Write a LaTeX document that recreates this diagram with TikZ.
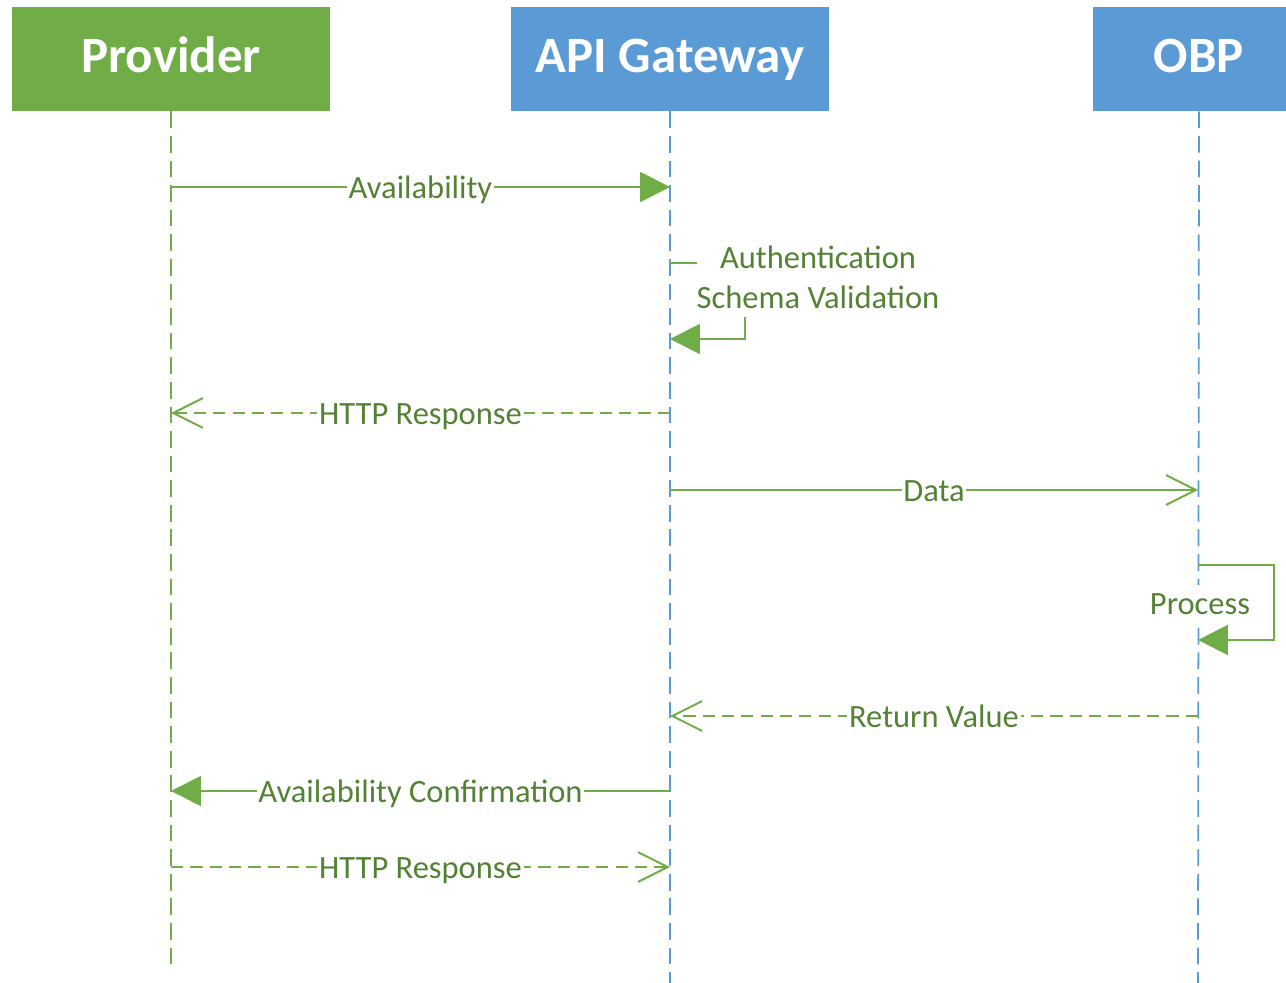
\documentclass[tikz,border=0pt]{standalone}
\usepackage{fontspec}
\setmainfont{Carlito}
\usetikzlibrary{arrows.meta}

\definecolor{actgreen}{HTML}{70AD47}
\definecolor{actblue}{HTML}{5B9BD5}
\definecolor{msggreen}{HTML}{548235}

\tikzset{
  actor/.style={fill=#1, text=white, font=\fontsize{29}{34}\selectfont\bfseries,
    minimum width=6.36cm, minimum height=2.08cm, inner sep=0pt,
    text height=15.9pt, text depth=0pt},
  lifeline/.style={draw=#1, line width=1pt, dash pattern=on 9.5pt off 4.5pt},
  call/.style={actgreen, line width=1.1pt, -{Triangle[length=17pt,width=17pt]}},
  async/.style={actgreen, line width=1.1pt, -{Straight Barb[length=17pt,width=17pt]}},
  reply/.style={async, dash pattern=on 7pt off 4pt},
  note/.style={fill=white, text=msggreen, font=\fontsize{18.5}{22.7}\selectfont, inner sep=1pt},
  msg/.style={note, text height=13pt, text depth=0pt, inner ysep=4pt},
}

\begin{document}
\begin{tikzpicture}[x=0.02cm, y=-0.02cm]
  \useasboundingbox (0,0) rectangle (1286,983);

  % actors
  \node[actor=actgreen] (prov) at (171,59) {Provider};
  \node[actor=actblue] (gate) at (670,59) {API Gateway};
  \begin{scope}
    \clip (1093,7) rectangle (1286,111);
    \node[actor=actblue] (obp) at (1199,59) {OBP};
  \end{scope}

  % lifelines
  \coordinate (pend) at (171,968);
  \coordinate (gend) at (670,983);
  \coordinate (oend) at (1198,983);
  \draw[lifeline=actgreen] (prov.south) -- (pend);
  \draw[lifeline=actblue] (gate.south) -- (gend);
  \draw[lifeline=actblue] (obp.south) -- (oend);

  % message rows on each lifeline
  \foreach \y [count=\i] in {187,263,339,413,490,565,640,716,791,867} {
    \coordinate (p\i) at (171,\y);
    \coordinate (g\i) at (670,\y);
    \coordinate (o\i) at (1198,\y);
  }

  \draw[call] (p1) -- node[msg] {Availability} (g1);

  \draw[call] (g2) -- ++(75,0) |- (g3);
  \node[note, align=center, inner xsep=0pt, inner ysep=5pt] (auth) at (818,277) {Authentication\\Schema Validation};

  \draw[reply] (g4) -- node[msg] {HTTP Response} (p4);
  \draw[async] (g5) -- node[msg] {Data} (o5);

  \draw[call] (o6) -- ++(76,0) |- (o7);
  \node[msg] (proc) at (1200,603) {Process};

  \draw[reply] (o8) -- node[msg] {Return Value} (g8);
  \draw[call] (g9) -- node[msg] {Availability Confirmation} (p9);
  \draw[reply] (p10) -- node[msg] {HTTP Response} (g10);
\end{tikzpicture}
\end{document}
